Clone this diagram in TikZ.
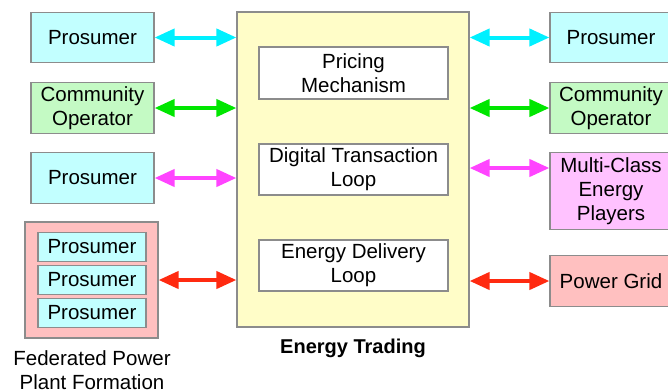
\documentclass[tikz,border=0pt]{standalone}
\usepackage{fontspec}
\setmainfont{Liberation Sans}
\usetikzlibrary{arrows.meta}

\definecolor{boxgray}{HTML}{8C8C8C}
\definecolor{cyanfill}{HTML}{C2FFFF}
\definecolor{greenfill}{HTML}{C4FAC4}
\definecolor{pinkfill}{HTML}{FFC2FF}
\definecolor{redfill}{HTML}{FFC0C0}
\definecolor{yellowfill}{HTML}{FFFDC8}
\definecolor{cyanline}{HTML}{00F0FF}
\definecolor{greenline}{HTML}{00E600}
\definecolor{pinkline}{HTML}{FF44FF}
\definecolor{redline}{HTML}{FF2A10}

\tikzset{
  box/.style={draw=boxgray, line width=1.2pt, align=center, inner sep=0pt,
    font=\fontsize{20.5}{24}\selectfont},
  plain/.style={align=center, inner sep=0pt, font=\fontsize{20.5}{24}\selectfont},
  link/.style={draw=#1, line width=4pt,
    {Triangle[length=20pt,width=17pt]}-{Triangle[length=20pt,width=17pt]}}
}

\begin{document}
\begin{tikzpicture}[x=1pt,y=-1pt]
\useasboundingbox (0,0) rectangle (668,389);

% central trading block
\node[box, fill=yellowfill, minimum width=232pt, minimum height=315pt] (trade) at (353,169.5) {};
\node[box, fill=white, minimum width=189pt, minimum height=52pt] (price) at (353.5,73) {Pricing\\Mechanism};
\node[box, fill=white, minimum width=189pt, minimum height=51pt] (digital) at (353.5,169.5) {Digital Transaction\\Loop};
\node[box, fill=white, minimum width=189pt, minimum height=51pt] (delivery) at (353.5,265.5) {Energy Delivery\\Loop};
\node[plain, font=\fontsize{20}{24}\selectfont\bfseries] (tradelbl) at (353,348) {Energy Trading};

% left participants
\node[box, fill=cyanfill, minimum width=123pt, minimum height=50pt] (lp1) at (92.5,37.5) {Prosumer};
\node[box, fill=greenfill, minimum width=123pt, minimum height=51pt] (lco) at (92.5,108) {Community\\Operator};
\node[box, fill=cyanfill, minimum width=123pt, minimum height=51pt] (lp2) at (92.5,178) {Prosumer};

% federated power plant
\node[box, fill=redfill, minimum width=133pt, minimum height=116pt] (fed) at (91.5,280) {};
\node[box, fill=cyanfill, minimum width=108pt, minimum height=29pt] (fp1) at (92,247) {Prosumer};
\node[box, fill=cyanfill, minimum width=108pt, minimum height=29pt] (fp2) at (92,280) {Prosumer};
\node[box, fill=cyanfill, minimum width=108pt, minimum height=29pt] (fp3) at (92,313) {Prosumer};
\node[plain] (fedlbl) at (92,370) {Federated Power\\Plant Formation};

% right participants
\node[box, fill=cyanfill, minimum width=122pt, minimum height=50pt] (rp1) at (611,37.5) {Prosumer};
\node[box, fill=greenfill, minimum width=122pt, minimum height=51pt] (rco) at (611,108) {Community\\Operator};
\node[box, fill=pinkfill, minimum width=122pt, minimum height=77pt] (rmc) at (611,191) {Multi-Class\\Energy\\Players};
\node[box, fill=redfill, minimum width=122pt, minimum height=51pt] (rgrid) at (611,281) {Power Grid};

% connectors
\draw[link=cyanline] (lp1.east) -- (lp1.east -| trade.west);
\draw[link=greenline] (lco.east) -- (lco.east -| trade.west);
\draw[link=pinkline] (lp2.east) -- (lp2.east -| trade.west);
\draw[link=redline] (fed.east) -- (fed.east -| trade.west);

\coordinate (mcin) at (0,168);
\draw[link=cyanline] (rp1.west -| trade.east) -- (rp1.west);
\draw[link=greenline] (rco.west -| trade.east) -- (rco.west);
\draw[link=pinkline] (trade.east |- mcin) -- (rmc.west |- mcin);
\draw[link=redline] (rgrid.west -| trade.east) -- (rgrid.west);
\end{tikzpicture}
\end{document}
